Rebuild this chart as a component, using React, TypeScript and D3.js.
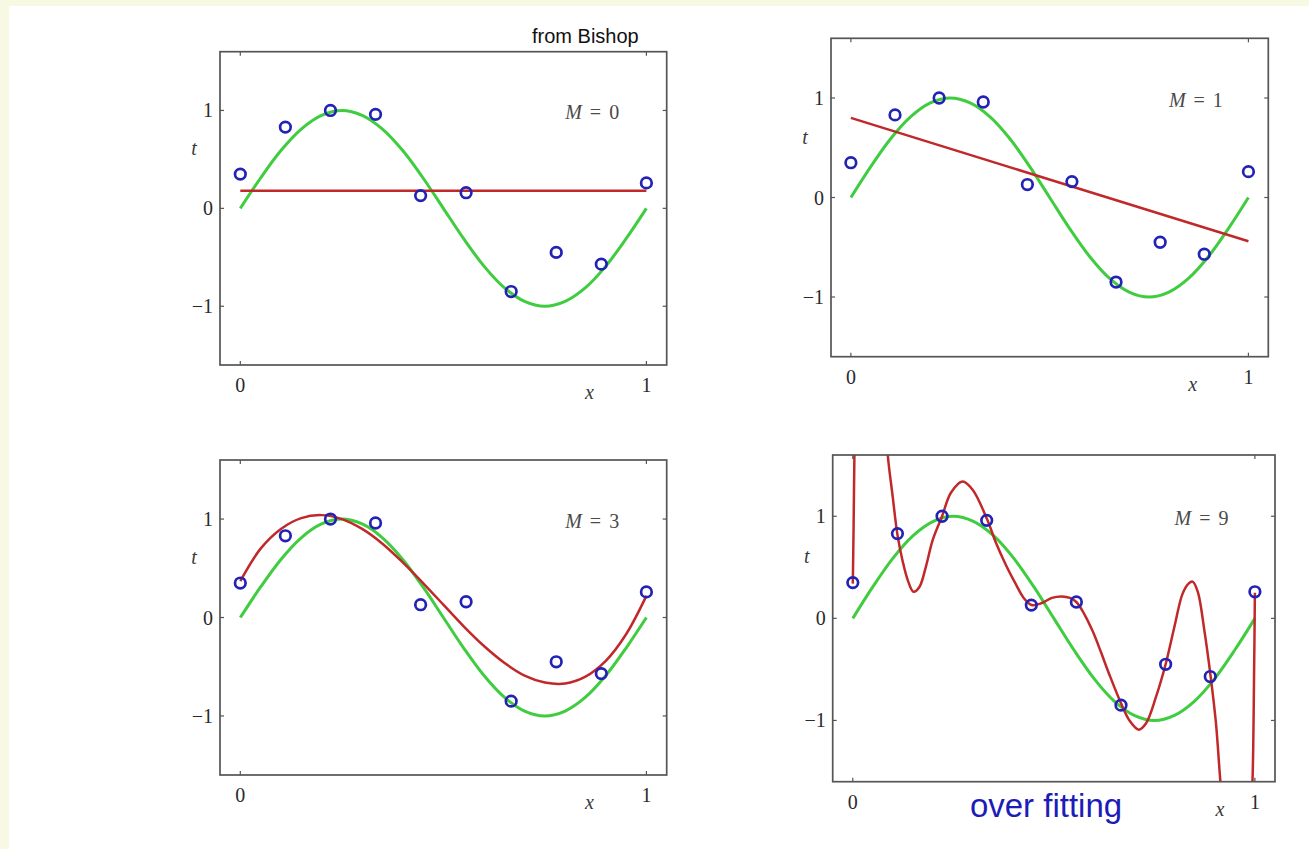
import React from "react";
import * as d3 from "d3";

// observed data points (same set in every panel)
const dataX = [0, 0.111, 0.222, 0.333, 0.444, 0.556, 0.667, 0.778, 0.889, 1];
const dataT = [0.35, 0.83, 1.0, 0.96, 0.13, 0.16, -0.85, -0.45, -0.57, 0.26];

// green curve
const trueX = [0, 0.05, 0.1, 0.15, 0.2, 0.25, 0.3, 0.35, 0.4, 0.45, 0.5, 0.55, 0.6, 0.65, 0.7, 0.75, 0.8, 0.85, 0.9, 0.95, 1];
const trueY = [0, 0.31, 0.59, 0.81, 0.95, 1.0, 0.95, 0.81, 0.59, 0.31, 0, -0.31, -0.59, -0.81, -0.95, -1.0, -0.95, -0.81, -0.59, -0.31, 0];

// red fitted curves
const fitM0X = [0, 1];
const fitM0Y = [0.18, 0.18];
const fitM1X = [0, 1];
const fitM1Y = [0.8, -0.44];
const fitM3X = [0, 0.05, 0.1, 0.15, 0.2, 0.25, 0.3, 0.35, 0.4, 0.45, 0.5, 0.55, 0.6, 0.65, 0.7, 0.75, 0.8, 0.85, 0.9, 0.95, 1];
const fitM3Y = [0.37, 0.7, 0.9, 1.01, 1.04, 1.0, 0.9, 0.75, 0.56, 0.35, 0.13, -0.09, -0.29, -0.46, -0.59, -0.66, -0.67, -0.6, -0.44, -0.17, 0.22];
const fitM9X = [0, 0.002, 0.004, 0.006, 0.045, 0.084, 0.087, 0.099, 0.111, 0.124, 0.137, 0.151, 0.166, 0.182, 0.199, 0.222, 0.244, 0.273, 0.298, 0.334, 0.356, 0.381, 0.406, 0.425, 0.445, 0.47, 0.495, 0.52, 0.54, 0.556, 0.576, 0.597, 0.618, 0.638, 0.669, 0.688, 0.711, 0.729, 0.754, 0.778, 0.8, 0.82, 0.835, 0.845, 0.858, 0.874, 0.89, 0.903, 0.914, 0.92, 0.955, 0.99, 0.994, 0.998, 1];
const fitM9Y = [0.34, 0.9, 1.6, 1.9, 3.5, 1.9, 1.6, 1.2, 0.82, 0.56, 0.37, 0.26, 0.31, 0.51, 0.77, 1.0, 1.23, 1.34, 1.26, 0.97, 0.74, 0.52, 0.33, 0.2, 0.13, 0.15, 0.2, 0.215, 0.2, 0.16, 0.04, -0.13, -0.34, -0.55, -0.85, -1.0, -1.09, -1.03, -0.77, -0.45, -0.08, 0.24, 0.34, 0.36, 0.26, -0.11, -0.57, -1.02, -1.59, -1.85, -3.5, -1.85, -1.59, -0.53, 0.25];

const orders = [0, 1, 3, 9];
const xTicks = [0, 1];
const yTicks = [-1, 0, 1];

const panels = [
  { order: orders[0], fx: fitM0X, fy: fitM0Y, box: [220, 51.7, 666.7, 365], xLab: 0.86 },
  { order: orders[1], fx: fitM1X, fy: fitM1Y, box: [831, 38.3, 1268.3, 356.7], xLab: 0.86 },
  { order: orders[2], fx: fitM3X, fy: fitM3Y, box: [220, 460, 666.7, 775], xLab: 0.86 },
  { order: orders[3], fx: fitM9X, fy: fitM9Y, box: [832.7, 455, 1275, 781.7], xLab: 0.913 },
];

const serif = "'Liberation Serif', 'DejaVu Serif', serif";
const sans = "'Liberation Sans', Arial, sans-serif";

function Panel({ p, idx }: { p: any; idx: number }) {
  const [l, t, r, b] = p.box;
  const x = d3.scaleLinear().domain([-0.05, 1.05]).range([l, r]);
  const y = d3.scaleLinear().domain([-1.6, 1.6]).range([b, t]);
  const line = d3
    .line<[number, number]>()
    .x((d) => x(d[0]))
    .y((d) => y(d[1]))
    .curve(d3.curveCatmullRom.alpha(0.5));
  const green = line(trueX.map((v, i) => [v, trueY[i]]) as [number, number][]) || "";
  const red = line(p.fx.map((v: number, i: number) => [v, p.fy[i]]) as [number, number][]) || "";
  const clipId = "clip" + idx;
  const tick = 4;
  return (
    <g>
      <clipPath id={clipId}>
        <rect x={l} y={t} width={r - l} height={b - t} />
      </clipPath>
      <g clipPath={`url(#${clipId})`}>
        <path d={green} fill="none" stroke="#3fcc3f" strokeWidth={3} />
        <path d={red} fill="none" stroke="#c0282a" strokeWidth={2.5} />
        {dataX.map((v, i) => (
          <circle key={i} cx={x(v)} cy={y(dataT[i])} r={5.3} fill="none" stroke="#2222b4" strokeWidth={2.7} />
        ))}
      </g>
      <rect x={l} y={t} width={r - l} height={b - t} fill="none" stroke="#555" strokeWidth={1.7} />
      {xTicks.map((v) => (
        <g key={"x" + v}>
          <line x1={x(v)} x2={x(v)} y1={b} y2={b - tick} stroke="#555" strokeWidth={1.2} />
          <line x1={x(v)} x2={x(v)} y1={t} y2={t + tick} stroke="#555" strokeWidth={1.2} />
          <text x={x(v)} y={b + 27} textAnchor="middle" fontFamily={serif} fontSize={20} fill="#2a2a2a">
            {String(v)}
          </text>
        </g>
      ))}
      {yTicks.map((v) => (
        <g key={"y" + v}>
          <line x1={l} x2={l + tick} y1={y(v)} y2={y(v)} stroke="#555" strokeWidth={1.2} />
          <line x1={r} x2={r - tick} y1={y(v)} y2={y(v)} stroke="#555" strokeWidth={1.2} />
          <text x={l - 7} y={y(v)} dy="0.35em" textAnchor="end" fontFamily={serif} fontSize={20} fill="#2a2a2a">
            {v < 0 ? "\u2212" + Math.abs(v) : String(v)}
          </text>
        </g>
      ))}
      <text x={l - 26} y={y(0.54)} textAnchor="middle" fontFamily={serif} fontStyle="italic" fontSize={20} fill="#3a3a3a">
        t
      </text>
      <text x={x(p.xLab)} y={b + 34} textAnchor="middle" fontFamily={serif} fontStyle="italic" fontSize={20} fill="#3a3a3a">
        x
      </text>
      <text x={x(0.8)} y={y(0.91)} fontFamily={serif} fontSize={20} fill="#4a4a4a">
        <tspan fontStyle="italic">M</tspan>
        <tspan dx={8}>=</tspan>
        <tspan dx={8}>{String(p.order)}</tspan>
      </text>
    </g>
  );
}

export default function App() {
  return (
    <svg width={1309} height={849} style={{ position: "absolute", left: 0, top: 0 }}>
      <rect x={0} y={0} width={1309} height={849} fill="#f7f9e3" />
      <rect x={9} y={6} width={1300} height={843} fill="#ffffff" />
      {panels.map((p, i) => (
        <Panel key={i} p={p} idx={i} />
      ))}
      <text x={532} y={43} fontFamily={sans} fontSize={20} fill="#111">
        from Bishop
      </text>
      <text x={1046} y={817} textAnchor="middle" fontFamily={sans} fontSize={33} fill="#1c1cb8">
        over fitting
      </text>
    </svg>
  );
}
